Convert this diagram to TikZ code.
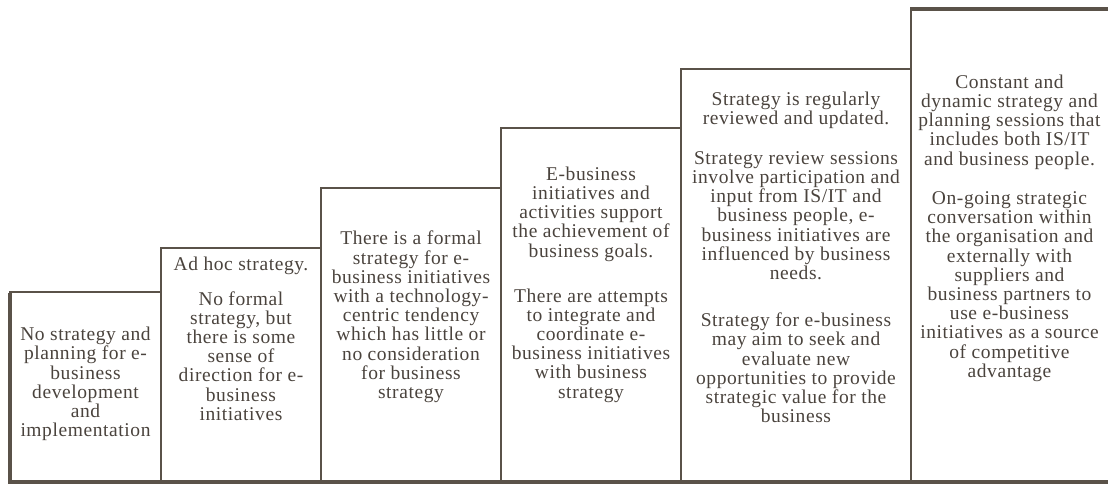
\documentclass[tikz,border=0pt]{standalone}
\usepackage{fontspec}
\setmainfont[LetterSpace=3]{Liberation Serif}
\definecolor{rule}{HTML}{5A5249}
\definecolor{ink}{HTML}{4A433D}
\begin{document}
\begin{tikzpicture}[x=1pt,y=-1pt,
  frame/.style={draw=rule,line width=2pt},
  heavy/.style={draw=rule,line width=4pt},
  txt/.style={text=ink,align=center,inner sep=0pt,
    font=\fontsize{19.5}{19.2}\selectfont}]
\useasboundingbox (0,0) rectangle (1108,486);

% steps, each one a box standing on the base line
\draw[frame] (10,482) rectangle (161,292);
\draw[frame] (161,482) rectangle (321,248);
\draw[frame] (321,482) rectangle (501,188);
\draw[frame] (501,482) rectangle (681,128);
\draw[frame] (681,482) rectangle (911,69);
\draw[frame] (911,482) -- (911,9);

% heavy outer edges
\draw[heavy] (10,293) -- (10,484);
\draw[heavy] (8,482) -- (1112,482);
\draw[heavy] (910,9) -- (1112,9);

% step 1
\node[txt] (s1) at (85.5,384) {No strategy and\\planning for e-\\business\\development\\and\\implementation};

% step 2
\node[txt] (s2a) at (241,265.5) {Ad hoc strategy.};
\node[txt] (s2b) at (241,356) {No formal\\strategy, but\\there is some\\sense of\\direction for e-\\business\\initiatives};

% step 3
\node[txt] (s3) at (411,317) {There is a formal\\strategy for e-\\business initiatives\\with a technology-\\centric tendency\\which has little or\\no consideration\\for business\\strategy};

% step 4
\node[txt] (s4a) at (591,214) {E-business\\initiatives and\\activities support\\the achievement of\\business goals.};
\node[txt] (s4b) at (591,345.5) {There are attempts\\to integrate and\\coordinate e-\\business initiatives\\with business\\strategy};

% step 5
\node[txt] (s5a) at (796,110) {Strategy is regularly\\reviewed and updated.};
\node[txt] (s5b) at (796,215.5) {Strategy review sessions\\involve participation and\\input from IS/IT and\\business people, e-\\business initiatives are\\influenced by business\\needs.};
\node[txt] (s5c) at (796,368) {Strategy for e-business\\may aim to seek and\\evaluate new\\opportunities to provide\\strategic value for the\\business};

% step 6
\node[txt] (s6a) at (1009.5,122) {Constant and\\dynamic strategy and\\planning sessions that\\includes both IS/IT\\and business people.};
\node[txt] (s6b) at (1009.5,286.5) {On-going strategic\\conversation within\\the organisation and\\externally with\\suppliers and\\business partners to\\use e-business\\initiatives as a source\\of competitive\\advantage};
\end{tikzpicture}
\end{document}
